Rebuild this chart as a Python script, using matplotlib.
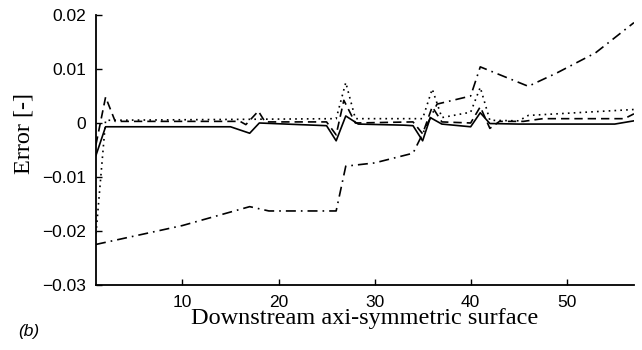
import matplotlib.pyplot as plt

# solid
x_solid = [1, 2, 15, 17, 18, 25, 26, 27, 28.3, 33, 34, 35, 35.8, 37, 40, 41, 42, 45, 55, 57]
y_solid = [-0.006, -0.0007, -0.0007, -0.0019, 0.0, -0.0005, -0.0033, 0.0013, -0.0002,
           -0.0004, -0.0005, -0.0033, 0.001, -0.0002, -0.0007, 0.0019, -0.0001, -0.0002,
           -0.0002, 0.0004]

# dashed
x_dash = [1, 2, 3, 16, 16.6, 17.9, 18.6, 25, 26, 26.8, 28, 34, 35, 36, 37, 40, 41, 42, 43, 45.5, 47.5, 56, 57]
y_dash = [-0.004, 0.0048, 0.0003, 0.0003, -0.0003, 0.0022, 0.0002, 0.0002, -0.0022, 0.0042, 0.0,
          0.0002, -0.002, 0.003, 0.0002, 0.0, 0.003, -0.001, 0.0003, 0.0003, 0.0008, 0.0008, 0.0017]

# dotted
x_dot = [1, 2, 26, 27, 28, 35, 36, 37, 40, 41, 42, 45, 46, 57]
y_dot = [-0.0205, 0.0005, 0.0008, 0.0075, 0.0008, 0.0008, 0.0063, 0.001, 0.002, 0.0066,
         0.0005, 0.0004, 0.0014, 0.0025]

# dash-dot
x_dd = [1, 10, 17, 19, 26, 27, 30, 34, 35, 36.5, 40, 41, 46, 49, 53, 57]
y_dd = [-0.0225, -0.019, -0.0155, -0.0163, -0.0163, -0.008, -0.0074, -0.0056, -0.002,
        0.0035, 0.005, 0.0104, 0.0068, 0.0093, 0.013, 0.0186]

x_ticks = [10, 20, 30, 40, 50]
y_ticks = [-0.03, -0.02, -0.01, 0, 0.01, 0.02]
y_ticklabels = ["\u22120.03", "\u22120.02", "\u22120.01", "0", "0.01", "0.02"]

fig = plt.figure(figsize=(6.42, 3.5), dpi=100)
ax = fig.add_axes([0.1495, 0.186, 0.838, 0.771])

lw = 1.2
ax.plot(x_solid, y_solid, color="black", linestyle="-", linewidth=lw)
ax.plot(x_dash, y_dash, color="black", linestyle=(0, (5, 3)), linewidth=lw)
ax.plot(x_dot, y_dot, color="black", linestyle=(0, (1, 2.5)), linewidth=lw)
ax.plot(x_dd, y_dd, color="black", linestyle=(0, (6, 3, 1, 3)), linewidth=lw)

ax.set_xlim(1, 57)
ax.set_ylim(-0.03, 0.02)
ax.set_xticks(x_ticks)
ax.set_yticks(y_ticks)
ax.set_yticklabels(y_ticklabels)
ax.spines["top"].set_visible(False)
ax.spines["right"].set_visible(False)
for side in ("left", "bottom"):
    ax.spines[side].set_linewidth(1.3)
ax.tick_params(direction="in", length=4, width=1, labelsize=12.5, pad=7)
for lab in ax.get_xticklabels() + ax.get_yticklabels():
    lab.set_family("Liberation Sans")

ax.set_xlabel("Downstream axi-symmetric surface", family="Liberation Serif", fontsize=17.5, labelpad=-1)
ax.set_ylabel("Error [-]", family="Liberation Serif", fontsize=17.5)
ax.yaxis.set_label_coords(-0.115, 0.56)
fig.text(0.028, 0.04, "(b)", family="Liberation Sans", style="italic", fontsize=12.5)

fig.savefig("out.png", dpi=100)
